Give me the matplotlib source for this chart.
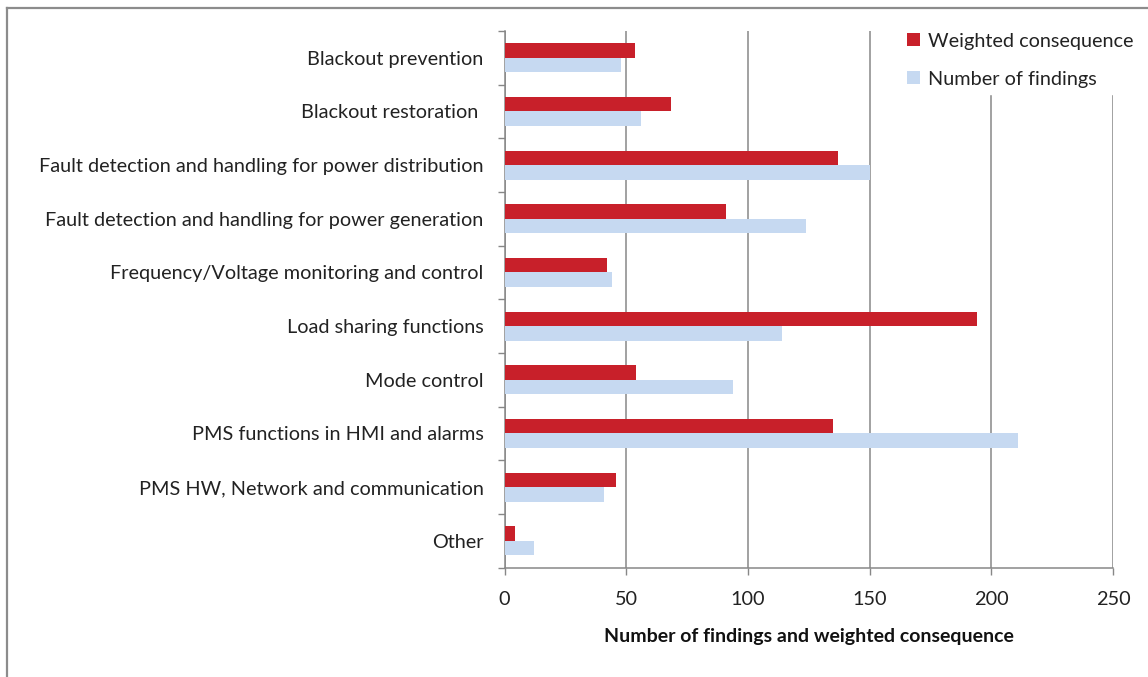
import numpy as np
import matplotlib.pyplot as plt
from matplotlib.lines import Line2D

plt.rcParams['font.family'] = ['Lato', 'DejaVu Sans']

categories = [
    'Blackout prevention',
    'Blackout restoration ',
    'Fault detection and handling for power distribution',
    'Fault detection and handling for power generation',
    'Frequency/Voltage monitoring and control',
    'Load sharing functions',
    'Mode control',
    'PMS functions in HMI and alarms',
    'PMS HW, Network and communication',
    'Other',
]
weighted = [53.5, 68.5, 137, 91, 42, 194, 54, 135, 46, 4.5]
findings = [48, 56, 150, 124, 44, 114, 94, 211, 41, 12]

red = '#C8202A'
blue = '#C6D9F1'
grey = '#878787'

fig = plt.figure(figsize=(11.48, 6.77), dpi=100)
ax = fig.add_axes([0.4395, 0.1617, 0.5300, 0.7925])

y = np.arange(len(categories))
h = 0.27
ax.barh(y - h / 2, weighted, height=h, color=red, label='Weighted consequence', zorder=3)
ax.barh(y + h / 2, findings, height=h, color=blue, label='Number of findings', zorder=3)

ax.set_xlim(0, 250)
ax.set_ylim(len(categories) - 0.5, -0.5)
ax.set_xticks(np.arange(0, 251, 50))
ax.set_yticks(y)
ax.set_yticklabels(categories, fontsize=14.3, color='#222222')
# tick marks sit between categories, labels at the centres
ax.set_yticks(np.arange(-0.5, len(categories), 1), minor=True)
ax.tick_params(axis='y', which='major', length=0, pad=15)
ax.tick_params(axis='y', which='minor', length=5, color=grey, width=1)
ax.tick_params(axis='x', length=5, color=grey, width=1, pad=12, labelsize=14.3,
               labelcolor='#222222')

ax.grid(axis='x', color=grey, linewidth=1.1, zorder=0)
for s in ['top', 'right']:
    ax.spines[s].set_visible(False)
for s in ['left', 'bottom']:
    ax.spines[s].set_color(grey)
    ax.spines[s].set_linewidth(1.1)

ax.set_xlabel('Number of findings and weighted consequence', fontsize=14,
              fontweight='bold', labelpad=14, color='#111111')

leg = ax.legend(loc='upper left', bbox_to_anchor=(0.776, 0.975),
                bbox_transform=fig.transFigure, fontsize=14.3, frameon=True,
                framealpha=1, edgecolor='white', facecolor='white',
                handlelength=0.65, handleheight=0.65, handletextpad=0.4,
                labelspacing=1.05, borderpad=0.3, fancybox=False)
leg.set_zorder(5)
for t in leg.get_texts():
    t.set_color('#222222')

# frame lines along the left and top of the chart area
fig.add_artist(Line2D([7 / 1148, 7 / 1148], [0, 1 - 8 / 677], color='#8c8c8c', lw=1.6))
fig.add_artist(Line2D([7 / 1148, 1], [1 - 8 / 677, 1 - 8 / 677], color='#8c8c8c', lw=1.6))

fig.savefig('out.png', dpi=100)
